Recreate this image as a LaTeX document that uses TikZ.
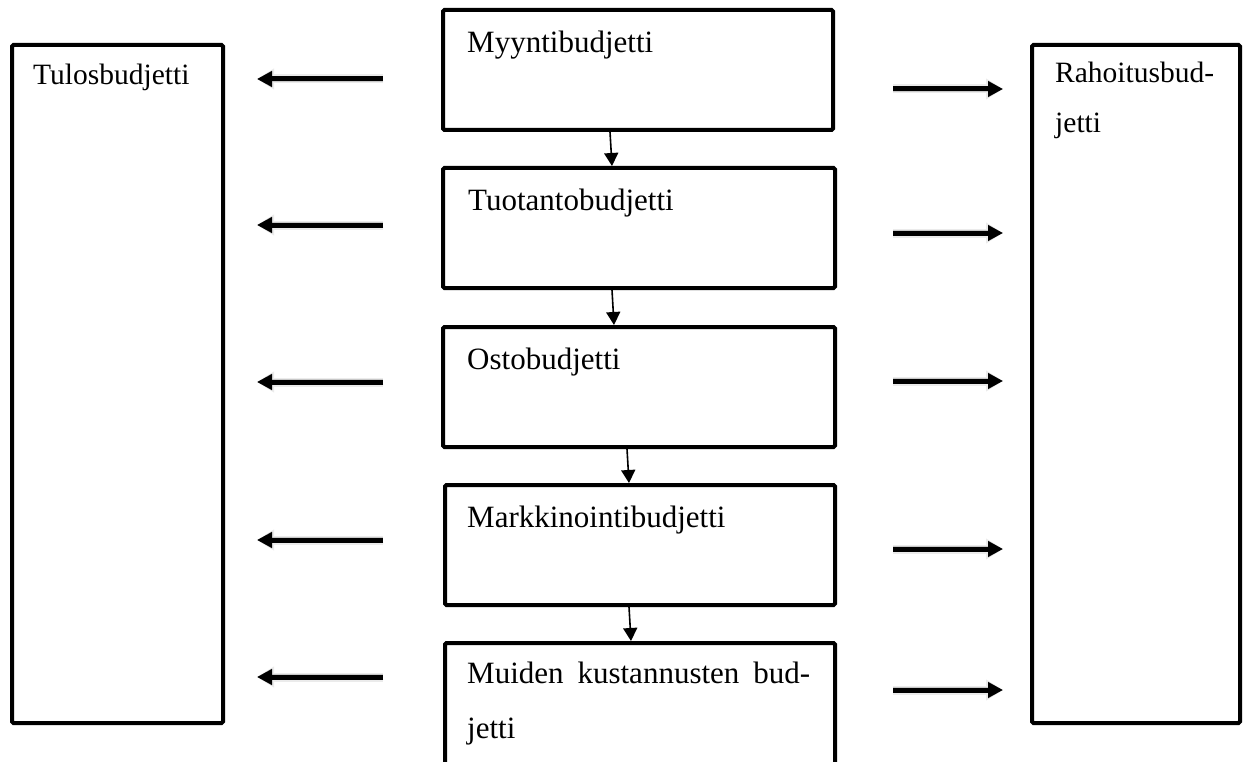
\documentclass[tikz,border=0pt]{standalone}
\usepackage{fontspec}
\setmainfont{Liberation Serif}
\usetikzlibrary{arrows.meta,calc}
\begin{document}
\begin{tikzpicture}[x=1pt,y=-1pt,
  box/.style={draw, line width=4pt, rounded corners=1.5pt, outer sep=0pt,
    inner sep=0pt, anchor=north west, fill=white},
  lbl/.style={anchor=base west, inner sep=0pt, font=\fontsize{31}{36}\selectfont},
  slbl/.style={anchor=base west, inner sep=0pt, font=\fontsize{29.5}{34}\selectfont},
  flow/.style={line width=1.6pt, -{Triangle[length=13pt,width=14pt]}},
  feed/.style={line width=5pt, -{Triangle[length=15pt,width=15pt]}},
  feedhalo/.style={line width=9pt, draw=black!8, -{Triangle[length=17pt,width=20pt]},
    shift={(1.5,3.5)}},
  feedshade/.style={line width=6pt, draw=black!22, -{Triangle[length=15pt,width=16pt]},
    shift={(1,2.5)}},
]
\useasboundingbox (0,0) rectangle (1244,762);
\clip (0,0) rectangle (1244,762);

% side boxes
\node[box, minimum width=211, minimum height=678] (tulos) at (12,45) {};
\node[box, minimum width=208, minimum height=678] (rahoitus) at (1032,45) {};
\node[slbl] (tulos-t) at (33,85) {Tulosbudjetti};
\node[slbl] (rahoitus-t1) at (1055,83) {Rahoitusbud-};
\node[slbl] (rahoitus-t2) at (1055,133) {jetti};

% chain of budgets in the middle
\node[box, minimum width=390, minimum height=120] (myynti)   at (443,10)  {};
\node[box, minimum width=392, minimum height=120] (tuotanto) at (443,168) {};
\node[box, minimum width=392, minimum height=120] (osto)     at (443,327) {};
\node[box, minimum width=390, minimum height=120] (markk)    at (445,485) {};
\node[box, minimum width=390, minimum height=140] (muut)     at (445,643) {};

\node[lbl] (myynti-t)   at (467,53)  {Myyntibudjetti};
\node[lbl] (tuotanto-t) at (468,211) {Tuotantobudjetti};
\node[lbl] (osto-t)     at (467,369) {Ostobudjetti};
\node[lbl] (markk-t)    at (467,527) {Markkinointibudjetti};
\node[lbl] (muut-t1)    at (467,683) {\makebox[343pt][s]{Muiden kustannusten bud-}};
\node[lbl] (muut-t2)    at (467,738) {jetti};

% downward flow between the budgets
\draw[flow] ([xshift=167pt,yshift=-2pt]myynti.south west)   -- ([xshift=169pt,yshift=2pt]tuotanto.north west);
\draw[flow] ([xshift=169pt,yshift=-2pt]tuotanto.south west) -- ([xshift=171pt,yshift=2pt]osto.north west);
\draw[flow] ([xshift=184pt,yshift=-2pt]osto.south west)     -- ([xshift=184pt,yshift=2pt]markk.north west);
\draw[flow] ([xshift=184pt,yshift=-2pt]markk.south west)    -- ([xshift=186pt,yshift=2pt]muut.north west);

% arrows towards the result budget (left) and the financing budget (right)
\foreach \i/\yl/\yr in {1/79/89, 2/225/233, 3/382/381, 4/540/549, 5/677/690} {
  \coordinate (l\i a) at (383,\yl);
  \coordinate (l\i b) at (257,\yl);
  \coordinate (r\i a) at (893,\yr);
  \coordinate (r\i b) at (1003,\yr);
  \draw[feedhalo]  (l\i a) -- (l\i b);
  \draw[feedshade] (l\i a) -- (l\i b);
  \draw[feed]      (l\i a) -- (l\i b);
  \draw[feedhalo]  (r\i a) -- (r\i b);
  \draw[feedshade] (r\i a) -- (r\i b);
  \draw[feed]      (r\i a) -- (r\i b);
}
\end{tikzpicture}
\end{document}
